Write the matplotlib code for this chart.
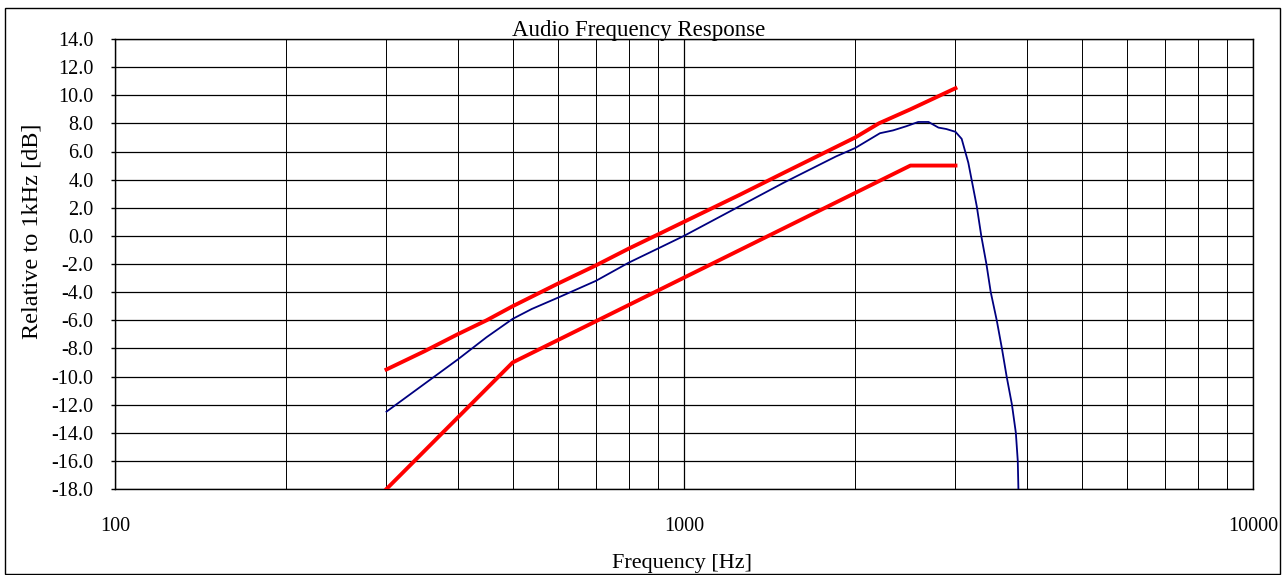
import matplotlib
matplotlib.use("Agg")
import matplotlib.pyplot as plt
from matplotlib.patches import Rectangle
from matplotlib.ticker import FixedLocator, NullFormatter

plt.rcParams['font.family'] = ['Liberation Serif', 'DejaVu Serif']

# Upper tolerance limit (red)
upper_f = [300, 350, 400, 450, 500, 600, 700, 800, 900, 1000, 1250, 1500, 2000, 2200, 2500, 3000]
upper_db = [-9.5, -8.2, -7.0, -6.0, -5.0, -3.4, -2.1, -0.9, 0.1, 1.0, 2.9, 4.5, 7.0, 8.0, 9.0, 10.5]

# Lower tolerance limit (red)
lower_f = [300, 500, 2500, 3000]
lower_db = [-18.0, -9.0, 5.0, 5.0]

# Measured response (blue)
resp_f = [300, 400, 450, 500, 540, 600, 700, 800, 900, 1000, 1500, 1850, 2000, 2210, 2330,
          2460, 2580, 2690, 2800, 2890, 3000, 3076, 3160, 3270, 3330, 3400, 3460, 3545,
          3620, 3690, 3770, 3830, 3860, 3870]
resp_db = [-12.5, -8.8, -7.2, -5.9, -5.2, -4.4, -3.2, -1.9, -0.9, 0.0, 3.8, 5.65, 6.25, 7.3, 7.5,
           7.8, 8.1, 8.1, 7.7, 7.6, 7.4, 6.9, 5.2, 2.1, 0.0, -2.0, -4.0, -6.0,
           -8.0, -10.0, -12.0, -14.0, -16.0, -18.0]

y_ticks = list(range(-18, 15, 2))
x_major = [100, 1000, 10000]
x_labels = ["100", "1000", "10000"]

W, H = 1286, 575
fig = plt.figure(figsize=(W / 100, H / 100), dpi=100)
fig.patch.set_facecolor('white')

# figure border
fig.patches.append(Rectangle((5 / W, 1 / H), 1275 / W, 566 / H, transform=fig.transFigure,
                             fill=False, edgecolor='black', linewidth=1.0))

ax = fig.add_axes([115 / W, (H - 489) / H, (1253 - 115) / W, (489 - 39) / H])
ax.set_xscale('log')
ax.set_xlim(100, 10000)
ax.set_ylim(-18, 14)

minor = [m * d for d in (100, 1000) for m in range(2, 10)]
ax.xaxis.set_major_locator(FixedLocator(x_major))
ax.xaxis.set_minor_locator(FixedLocator(minor))
ax.set_xticklabels(x_labels)
ax.xaxis.set_minor_formatter(NullFormatter())
ax.set_yticks(y_ticks)
ax.set_yticklabels([f"{v:.1f}" for v in y_ticks])

ax.grid(True, which='major', axis='both', color='black', linewidth=0.9)
ax.grid(True, which='minor', axis='x', color='black', linewidth=0.7)
ax.set_axisbelow(True)

ax.tick_params(axis='x', which='both', length=0, pad=20, labelsize=14.5)
ax.tick_params(axis='y', which='major', length=3, width=1, pad=12.5, labelsize=14.5, direction='out')

for s in ax.spines.values():
    s.set_color('black')
    s.set_linewidth(1.0)

ax.plot(upper_f, upper_db, color='#FF0000', linewidth=2.8, solid_joinstyle='round', zorder=3)
ax.plot(lower_f, lower_db, color='#FF0000', linewidth=2.8, solid_joinstyle='round', zorder=3)
ax.plot(resp_f, resp_db, color='#000080', linewidth=1.3, zorder=4)

fig.text(682.5 / W, 1 - 568 / H, "Frequency [Hz]", ha='center', va='baseline', fontsize=16)
fig.text(32 / W, 1 - 231 / H, "Relative to 1kHz [dB]", ha='center', va='center',
         rotation=90, fontsize=17.5)
fig.text(638.5 / W, 1 - 36 / H, "Audio Frequency Response", ha='center', va='baseline', fontsize=16.5)

fig.savefig("out.png", dpi=100)
